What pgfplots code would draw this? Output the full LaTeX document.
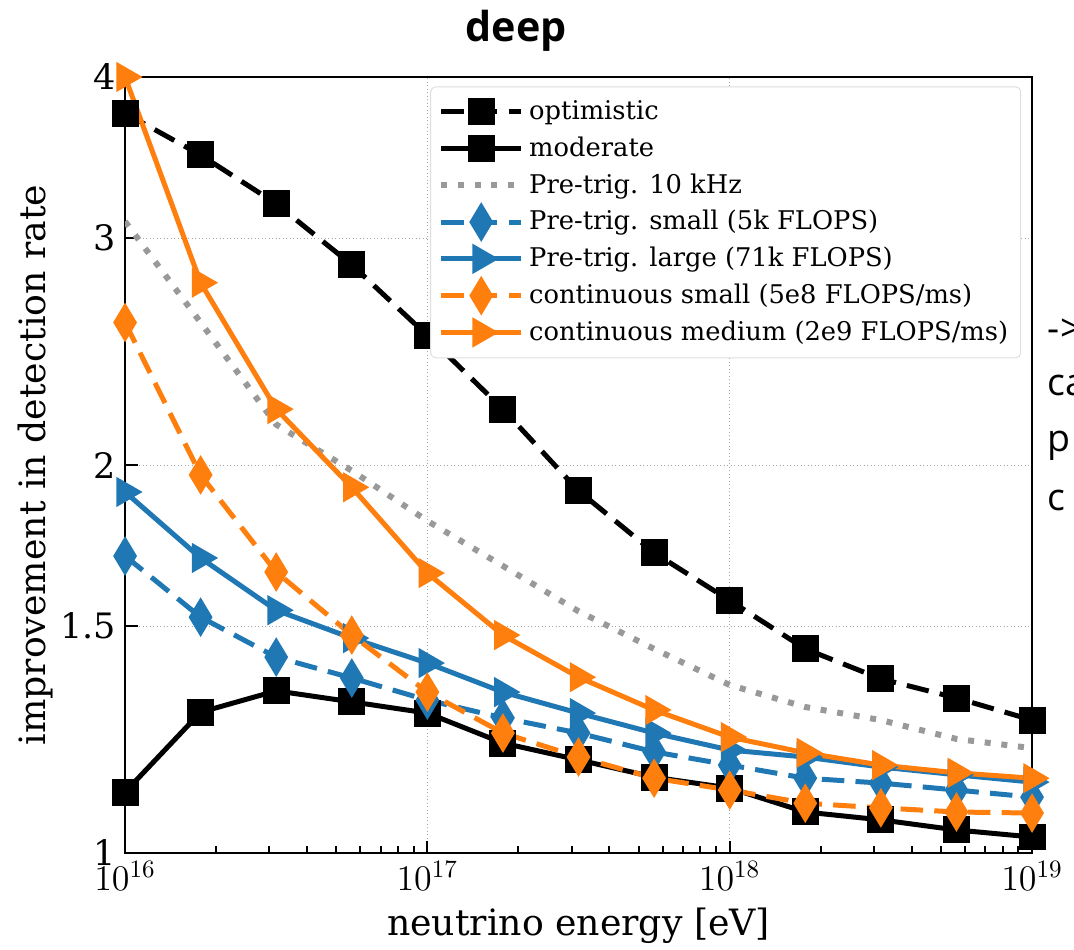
\documentclass[border=0pt]{standalone}
\usepackage{fontspec}
\setmainfont{DejaVu Serif}
\newfontfamily\slidefont{Open Sans}
\usepackage{pgfplots}
\pgfplotsset{compat=1.18}
\usepackage{pgfplotstable}

\definecolor{tabblue}{HTML}{1F77B4}
\definecolor{taborange}{HTML}{FF7F0E}
\definecolor{dotgray}{HTML}{999999}

% energy [eV] and improvement factor per scenario
\pgfplotstableread{
E          opt   mod   ten   pts   ptl   cs    cm
1e16       3.75  1.115 3.09  1.70  1.906 2.58  4.00
1.778e16   3.48  1.286 2.58  1.524 1.694 1.965 2.77
3.162e16   3.19  1.336 2.15  1.419 1.543 1.652 2.21
5.623e16   2.86  1.310 1.98  1.367 1.468 1.476 1.922
1e17       2.52  1.284 1.81  1.314 1.404 1.333 1.649
1.778e17   2.21  1.217 1.67  1.273 1.333 1.239 1.476
3.162e17   1.91  1.181 1.54  1.239 1.284 1.187 1.369
5.623e17   1.71  1.145 1.44  1.198 1.239 1.143 1.291
1e18       1.57  1.123 1.35  1.170 1.202 1.119 1.230
1.778e18   1.44  1.076 1.298 1.143 1.187 1.093 1.196
3.162e18   1.365 1.061 1.268 1.133 1.166 1.084 1.170
5.623e18   1.319 1.042 1.226 1.119 1.150 1.076 1.154
1e19       1.268 1.029 1.206 1.105 1.135 1.074 1.143
}\deep

\begin{document}
\begin{tikzpicture}
\path[use as bounding box] (-50pt,-38.8pt) rectangle (379.6pt,341.2pt);
\begin{axis}[
    at={(0pt,0pt)}, anchor=south west,
    scale only axis,
    width=362.8pt, height=310.4pt,
    xmode=log, ymode=log,
    xmin=1e16, xmax=1e19, ymin=1, ymax=4,
    ytick={1,1.5,2,3,4}, yticklabels={1,1.5,2,3,4},
    yminorticks=false,
    tick align=inside, xtick pos=bottom, ytick pos=left,
    major tick length=5pt, minor tick length=3pt,
    every tick/.style={black, line width=0.8pt},
    grid=major,
    major grid style={densely dotted, gray!70, line width=0.4pt},
    axis line style={line width=1pt},
    tick label style={font=\fontsize{14}{16}\selectfont},
    label style={font=\fontsize{14.5}{17}\selectfont},
    xlabel={neutrino energy [eV]},
    ylabel={improvement in detection rate},
    ylabel shift=-4pt,
    legend style={at={(0.988,0.988)}, anchor=north east,
        draw=gray!25, rounded corners=2pt, fill=white,
        font=\fontsize{10.3}{12}\selectfont,
        row sep=1.4pt, inner xsep=3pt, inner ysep=3.5pt},
    legend cell align=left,
    legend image code/.code={
        \draw[mark repeat=2,mark phase=2] plot coordinates {(0pt,0pt) (16pt,0pt) (32pt,0pt)};
    },
    every axis plot/.append style={line width=2pt},
]
\addplot[black, dash pattern=on 9pt off 4.5pt, mark=square*, mark size=4.4pt, mark options={solid}]
    table[x=E, y=opt] {\deep};
\addlegendentry{optimistic}
\addplot[black, mark=square*, mark size=4.4pt]
    table[x=E, y=mod] {\deep};
\addlegendentry{moderate}
\addplot[dotgray, line width=2.4pt, dash pattern=on 2.4pt off 4.3pt]
    table[x=E, y=ten] {\deep};
\addlegendentry{Pre-trig. 10 kHz}
\addplot[tabblue, dash pattern=on 9pt off 4.5pt, mark=diamond*, mark size=6pt, mark options={solid, xscale=0.8}]
    table[x=E, y=pts] {\deep};
\addlegendentry{Pre-trig. small (5k FLOPS)}
\addplot[tabblue, mark=triangle*, mark size=5pt, mark options={rotate=-90}]
    table[x=E, y=ptl] {\deep};
\addlegendentry{Pre-trig. large (71k FLOPS)}
\addplot[taborange, dash pattern=on 9pt off 4.5pt, mark=diamond*, mark size=6pt, mark options={solid, xscale=0.8}]
    table[x=E, y=cs] {\deep};
\addlegendentry{continuous small (5e8 FLOPS/ms)}
\addplot[taborange, mark=triangle*, mark size=5pt, mark options={rotate=-90}]
    table[x=E, y=cm] {\deep};
\addlegendentry{continuous medium (2e9 FLOPS/ms)}
\end{axis}
\node[font=\slidefont\bfseries\fontsize{16.5}{20}\selectfont] at (156.4pt,329pt) {deep};
\begin{scope}[every node/.style={anchor=west, inner sep=0pt, font=\slidefont\fontsize{15}{18}\selectfont}]
\node at (369pt,209pt) {->};
\node at (369pt,187pt) {ca};
\node at (369pt,163pt) {p};
\node at (369pt,141pt) {c};
\end{scope}
\end{tikzpicture}
\end{document}
